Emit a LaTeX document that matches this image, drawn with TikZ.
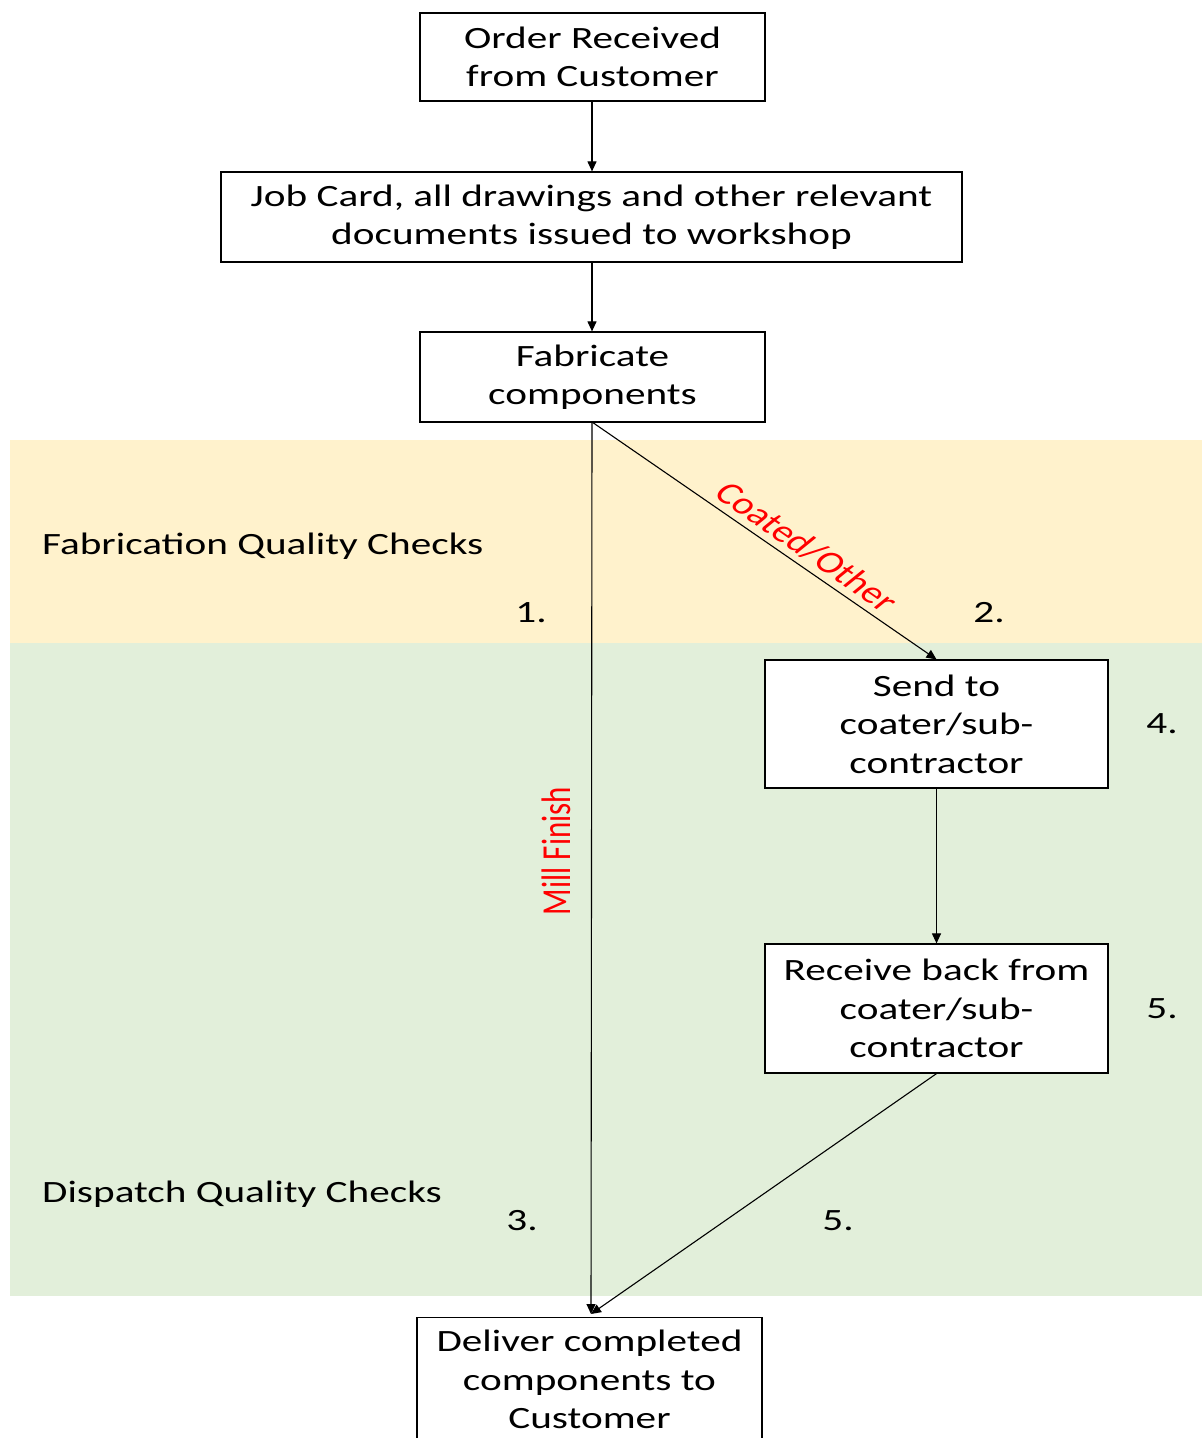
\documentclass[tikz,border=0pt]{standalone}
\usepackage{fontspec}
\setmainfont{Carlito}[FakeStretch=1.33]
\newfontfamily\plainfont{Carlito}
\usetikzlibrary{arrows.meta}
\definecolor{bandorange}{HTML}{FFF2CC}
\definecolor{bandgreen}{HTML}{E2EFDA}
\tikzset{
  box/.style={draw, line width=1.2pt, fill=white, align=center, inner sep=0pt, font=\fontsize{31}{38.5}\selectfont},
  conn/.style={line width=1.1pt, -{Triangle[length=10pt,width=9pt]}},
  lbl/.style={font=\fontsize{31}{36}\selectfont, inner sep=0pt},
  redlbl/.style={font=\plainfont\fontsize{31}{36}\selectfont, text=red, inner sep=0pt}
}
\begin{document}
\begin{tikzpicture}[x=1pt,y=-1pt]
\useasboundingbox (0,0) rectangle (1202,1438);
\clip (0,0) rectangle (1202,1438);
% bands
\fill[bandorange] (10,440) rectangle (1202,643);
\fill[bandgreen] (10,643) rectangle (1202,1296);
% boxes
\node[box, minimum width=345pt, minimum height=88pt] (order) at (592.5,57) {Order Received\\from Customer};
\node[box, minimum width=741pt, minimum height=90pt] (job) at (591.5,217) {Job Card, all drawings and other relevant\\documents issued to workshop};
\node[box, minimum width=345pt, minimum height=90pt] (fab) at (592.5,377) {Fabricate\\components};
\node[box, minimum width=343pt, minimum height=128pt] (send) at (936.5,724) {Send to\\coater/sub-\\contractor};
\node[box, minimum width=343pt, minimum height=129pt] (recv) at (936.5,1008.5) {Receive back from\\coater/sub-\\contractor};
\node[box, minimum width=345pt, minimum height=140pt, anchor=north] (deliver) at (589.5,1317) {};
\node[font=\fontsize{31}{38.5}\selectfont, align=center, anchor=north, inner sep=0pt] (delivertxt) at (589.5,1330) {Deliver completed\\components to\\Customer};
% coordinates
\coordinate (fabout) at (592,422);
\coordinate (delin) at (591,1314);
% connectors
\draw[conn] (order.south -| 592,0) -- (job.north -| 592,0);
\draw[conn] (job.south -| 592,0) -- (fab.north -| 592,0);
\draw[conn] (fabout) -- (delin);
\draw[conn] (fabout) -- (send.north);
\draw[conn] (send.south) -- (recv.north);
\draw[conn] (recv.south) -- (delin);
% edge labels
\begin{scope}[shift={(807,547)}, xscale=1.33]
\node[redlbl, transform shape, rotate=-42.7] (coated) at (0,0) {Coated/Other};
\end{scope}
\node[redlbl, rotate=90] (mill) at (556,851) {\scalebox{1}[1.33]{Mill Finish}};
% side labels
\node[lbl, anchor=west] (fabqc) at (42,546) {Fabrication Quality Checks};
\node[lbl, anchor=west] (disqc) at (42,1194) {Dispatch Quality Checks};
\node[lbl] (n1) at (531,613) {1.};
\node[lbl] (n2) at (989,613) {2.};
\node[lbl] (n4) at (1162,724) {4.};
\node[lbl] (n5a) at (1162,1009) {5.};
\node[lbl] (n3) at (522,1221) {3.};
\node[lbl] (n5b) at (838,1221) {5.};
\end{tikzpicture}
\end{document}
